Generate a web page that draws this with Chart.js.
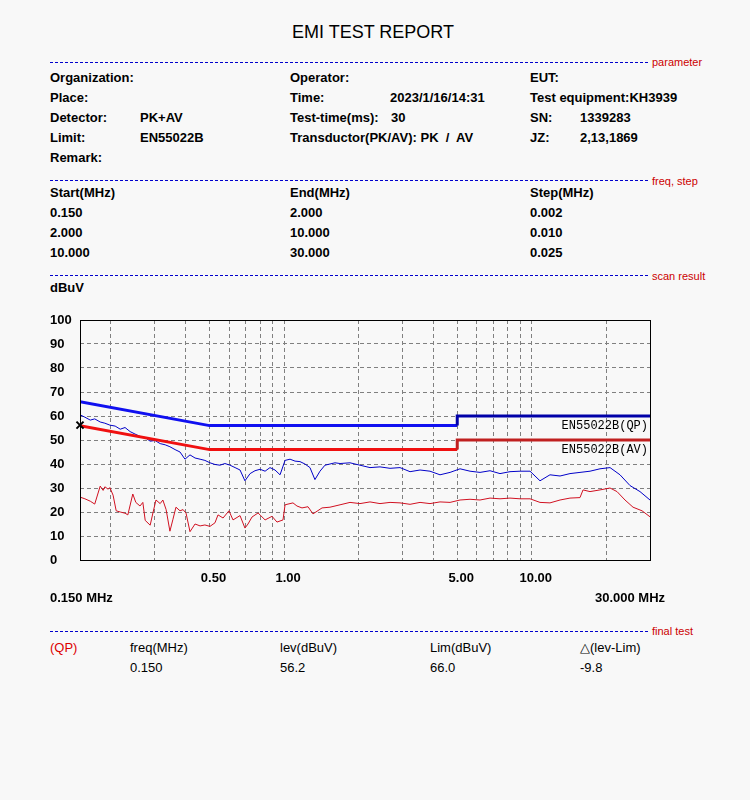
<!DOCTYPE html>
<html>
<head>
<meta charset="utf-8">
<title>EMI TEST REPORT</title>
<script src="https://cdn.jsdelivr.net/npm/chart.js@4/dist/chart.umd.min.js"></script>
<style>
  body { margin: 0; background: #f8f8f8; }
  #page { position: relative; width: 750px; height: 800px; font-family: "Liberation Sans", Arial, sans-serif; color: #000; }
  .t { position: absolute; font-size: 13px; line-height: 16px; font-weight: bold; white-space: pre; }
  .n { font-weight: normal; }
  .sec { position: absolute; font-size: 11px; line-height: 12px; color: #cc0000; }
  .dash { position: absolute; left: 50px; width: 598px; height: 0; border-top: 1px dashed #0000cc; }
  #title { position: absolute; top: 22px; left: 0; width: 746px; text-align: center; font-size: 18px; }
  #wrap { position: absolute; left: 0; top: 300px; width: 750px; height: 300px; }
</style>
</head>
<body>
<div id="page">
  <div id="title">EMI TEST REPORT</div>

  <div class="dash" style="top:62px"></div><div class="sec" style="left:652px;top:56px">parameter</div>
  <div class="t" style="left:50px;top:70px">Organization:</div>
  <div class="t" style="left:290px;top:70px">Operator:</div>
  <div class="t" style="left:530px;top:70px">EUT:</div>
  <div class="t" style="left:50px;top:90px">Place:</div>
  <div class="t" style="left:290px;top:90px">Time:</div>
  <div class="t" style="left:390px;top:90px">2023/1/16/14:31</div>
  <div class="t" style="left:530px;top:90px">Test equipment:KH3939</div>
  <div class="t" style="left:50px;top:110px">Detector:</div>
  <div class="t" style="left:140px;top:110px">PK+AV</div>
  <div class="t" style="left:290px;top:110px">Test-time(ms):</div>
  <div class="t" style="left:391px;top:110px">30</div>
  <div class="t" style="left:530px;top:110px">SN:</div>
  <div class="t" style="left:580px;top:110px">1339283</div>
  <div class="t" style="left:50px;top:130px">Limit:</div>
  <div class="t" style="left:140px;top:130px">EN55022B</div>
  <div class="t" style="left:290px;top:130px">Transductor(PK/AV): PK  /  AV</div>
  <div class="t" style="left:530px;top:130px">JZ:</div>
  <div class="t" style="left:580px;top:130px">2,13,1869</div>
  <div class="t" style="left:50px;top:150px">Remark:</div>

  <div class="dash" style="top:180px"></div><div class="sec" style="left:652px;top:175px">freq, step</div>
  <div class="t" style="left:50px;top:185px">Start(MHz)</div>
  <div class="t" style="left:290px;top:185px">End(MHz)</div>
  <div class="t" style="left:530px;top:185px">Step(MHz)</div>
  <div class="t" style="left:50px;top:205px">0.150</div>
  <div class="t" style="left:290px;top:205px">2.000</div>
  <div class="t" style="left:530px;top:205px">0.002</div>
  <div class="t" style="left:50px;top:225px">2.000</div>
  <div class="t" style="left:290px;top:225px">10.000</div>
  <div class="t" style="left:530px;top:225px">0.010</div>
  <div class="t" style="left:50px;top:245px">10.000</div>
  <div class="t" style="left:290px;top:245px">30.000</div>
  <div class="t" style="left:530px;top:245px">0.025</div>

  <div class="dash" style="top:275px"></div><div class="sec" style="left:652px;top:270px">scan result</div>
  <div class="t" style="left:50px;top:280px">dBuV</div>

  <div id="wrap"><canvas id="emiChart"></canvas></div>

  <div class="t" style="left:50px;top:590px">0.150 MHz</div>
  <div class="t" style="left:595px;top:590px">30.000 MHz</div>

  <div class="dash" style="top:631px"></div><div class="sec" style="left:652px;top:625px">final test</div>
  <div class="t n" style="left:50px;top:640px;color:#dd0000">(QP)</div>
  <div class="t n" style="left:130px;top:640px">freq(MHz)</div>
  <div class="t n" style="left:280px;top:640px">lev(dBuV)</div>
  <div class="t n" style="left:430px;top:640px">Lim(dBuV)</div>
  <div class="t n" style="left:580px;top:640px">△(lev-Lim)</div>
  <div class="t n" style="left:130px;top:660px">0.150</div>
  <div class="t n" style="left:280px;top:660px">56.2</div>
  <div class="t n" style="left:430px;top:660px">66.0</div>
  <div class="t n" style="left:580px;top:660px">-9.8</div>
</div>

<script>
// Dati (MHz / dBuV)
const xGrid = [0.2, 0.3, 0.4, 0.5, 0.6, 0.7, 0.8, 0.9, 1, 2, 3, 4, 5, 6, 7, 8, 9, 10, 20];
const xTickLabels = { 0.5: "0.50", 1: "1.00", 5: "5.00", 10: "10.00" };

// limiti EN55022B
const limitFreq = [0.15, 0.5, 5, 5, 30];
const qpLimit = [66, 56, 56, 60, 60];
const avLimit = [56, 46, 46, 50, 50];

// traccia PK (blu)
const pkFreq = [0.150, 0.157, 0.165, 0.172, 0.181, 0.189, 0.198, 0.208, 0.218, 0.228,
  0.239, 0.250, 0.262, 0.275, 0.288, 0.301, 0.316, 0.331, 0.346, 0.363,
  0.380, 0.398, 0.417, 0.437, 0.458, 0.479, 0.502, 0.526, 0.551, 0.577,
  0.605, 0.634, 0.664, 0.695, 0.729, 0.763, 0.800, 0.838, 0.877, 0.919,
  0.963, 1.009, 1.057, 1.107, 1.159, 1.214, 1.272, 1.332, 1.396, 1.462,
  1.532, 1.605, 1.682, 1.845, 2.025, 2.222, 2.439, 2.677, 2.937, 3.224,
  3.538, 3.882, 4.260, 4.676, 5.131, 5.631, 6.179, 6.781, 7.441, 8.166,
  8.962, 9.836, 10.79, 11.84, 13.00, 14.26, 15.65, 17.18, 18.85, 20.69,
  22.70, 24.92, 27.34, 30.0];
const pkLevel = [60.5, 59.5, 58.3, 58.8, 57.5, 57.0, 56.2, 55.8, 54.5, 55.2,
  53.5, 52.5, 51.5, 51.0, 49.5, 49.8, 48.5, 48.0, 47.2, 46.0,
  45.0, 42.0, 43.8, 42.5, 42.0, 41.5, 40.5, 39.8, 39.5, 40.2,
  39.5, 38.5, 37.5, 33.0, 36.0, 37.2, 37.8, 37.0, 38.5, 37.5,
  35.5, 41.5, 42.0, 41.2, 41.0, 40.0, 38.5, 33.5, 37.0, 39.5,
  40.0, 40.5, 40.2, 40.5, 39.5, 38.5, 38.8, 38.2, 38.5, 36.8,
  37.5, 37.0, 35.5, 36.5, 38.0, 37.0, 36.5, 37.2, 36.0, 36.8,
  37.0, 37.0, 33.0, 35.5, 35.0, 36.0, 36.5, 37.0, 38.0, 38.5,
  35.5, 31.0, 28.5, 25.0];

// traccia AV (rossa)
const avFreq = [0.150, 0.157, 0.165, 0.172, 0.181, 0.186, 0.189, 0.195, 0.198, 0.204,
  0.210, 0.218, 0.228, 0.234, 0.245, 0.252, 0.262, 0.269, 0.275, 0.288,
  0.296, 0.304, 0.316, 0.324, 0.334, 0.346, 0.356, 0.366, 0.380, 0.391,
  0.402, 0.417, 0.437, 0.458, 0.479, 0.502, 0.526, 0.541, 0.567, 0.599,
  0.622, 0.664, 0.695, 0.715, 0.742, 0.785, 0.838, 0.894, 0.936, 0.990,
  1.009, 1.086, 1.127, 1.181, 1.249, 1.308, 1.423, 1.532, 1.682, 1.845,
  2.025, 2.222, 2.439, 2.677, 2.937, 3.224, 3.538, 3.882, 4.260, 4.676,
  5.131, 5.631, 6.179, 6.781, 7.441, 8.166, 8.962, 9.836, 10.79, 11.84,
  13.00, 14.26, 15.65, 16.10, 17.18, 18.85, 20.69, 22.08, 23.78, 25.62,
  27.86, 30.0];
const avLevel = [26.2, 25.5, 24.5, 23.3, 30.8, 29.0, 30.5, 29.5, 30.2, 27.0,
  20.5, 20.0, 19.5, 18.8, 27.5, 24.0, 22.5, 24.0, 16.5, 14.5,
  20.0, 25.0, 23.5, 25.0, 21.0, 12.0, 17.0, 22.0, 20.5, 21.0,
  19.5, 11.8, 15.0, 14.2, 14.6, 14.0, 15.5, 18.8, 17.5, 20.5,
  16.7, 18.5, 13.3, 15.0, 17.9, 19.6, 16.7, 18.2, 15.8, 16.7,
  23.0, 23.8, 22.5, 21.7, 22.2, 19.2, 21.7, 22.0, 23.0, 24.0,
  23.5, 24.2, 23.5, 24.0, 23.8, 23.2, 24.0, 23.5, 24.2, 24.0,
  25.0, 25.3, 25.0, 25.8, 25.5, 25.8, 25.5, 25.5, 24.0, 23.8,
  25.0, 25.8, 26.0, 29.2, 28.5, 29.2, 30.0, 28.5, 25.0, 22.0,
  20.5, 18.0];

// punto final test QP
const markFreq = [0.150];
const markLevel = [56.2];

function zip(xs, ys) {
    return xs.map((x, i) => ({ x: x, y: ys[i] }));
}

// cornice e nomi dei limiti
const framePlugin = {
    id: "frame",
    afterDatasetsDraw(chart) {
        const a = chart.chartArea;
        const c = chart.ctx;
        const y = chart.scales.y;
        c.save();
        c.strokeStyle = "#000";
        c.lineWidth = 1;
        c.strokeRect(a.left + 0.5, a.top + 0.5, a.right - a.left, a.bottom - a.top);
        c.font = "12px 'Liberation Mono', monospace";
        c.fillStyle = "#000";
        c.textAlign = "right";
        c.textBaseline = "middle";
        c.fillText("EN55022B(QP)", a.right - 2, y.getPixelForValue(qpLimit[4]) + 10);
        c.fillText("EN55022B(AV)", a.right - 2, y.getPixelForValue(avLimit[4]) + 10);
        c.restore();
    }
};

const ctx = document.getElementById("emiChart");
const emiChart = new Chart(ctx, {
    type: "line",
    data: {
        datasets: [{
            label: "mark",
            data: zip(markFreq, markLevel),
            showLine: false,
            clip: 10,
            pointStyle: "crossRot",
            pointRadius: 5,
            borderColor: "#000",
            borderWidth: 2,
            order: 0
        }, {
            label: "QP limit",
            data: zip(limitFreq, qpLimit),
            borderColor: "#1010f0",
            segment: { borderColor: c => c.p0.parsed.x >= 5 ? "#0000a8" : "#1010f0" },
            borderWidth: 3,
            pointRadius: 0,
            order: 1
        }, {
            label: "AV limit",
            data: zip(limitFreq, avLimit),
            borderColor: "#f01010",
            segment: { borderColor: c => c.p0.parsed.x >= 5 ? "#c02020" : "#f01010" },
            borderWidth: 3,
            pointRadius: 0,
            order: 1
        }, {
            label: "PK",
            data: zip(pkFreq, pkLevel),
            borderColor: "#0000c8",
            borderWidth: 1,
            pointRadius: 0,
            order: 2
        }, {
            label: "AV",
            data: zip(avFreq, avLevel),
            borderColor: "#d01020",
            borderWidth: 1,
            pointRadius: 0,
            order: 2
        }]
    },
    options: {
        responsive: true,
        maintainAspectRatio: false,
        animation: false,
        layout: { padding: { left: 50, right: 100, top: 20, bottom: 12 } },
        plugins: { legend: { display: false }, tooltip: { enabled: false } },
        scales: {
            x: {
                type: "logarithmic",
                min: 0.15,
                max: 30,
                afterBuildTicks: s => { s.ticks = xGrid.map(v => ({ value: v })); },
                afterFit: s => { s.height = 28; },
                grid: { color: "#808080", drawTicks: false },
                border: { display: false, dash: [4, 3] },
                ticks: {
                    autoSkip: false,
                    maxRotation: 0,
                    padding: 11,
                    labelOffset: 4,
                    color: "#000",
                    font: { family: "'Liberation Sans', Arial", size: 13, weight: "bold" },
                    callback: v => xTickLabels[v] || ""
                }
            },
            y: {
                min: 0,
                max: 100,
                afterFit: s => { s.width = 30; },
                grid: { color: "#808080", drawTicks: false },
                border: { display: false, dash: [4, 3] },
                ticks: {
                    stepSize: 10,
                    crossAlign: "far",
                    padding: 4,
                    color: "#000",
                    font: { family: "'Liberation Sans', Arial", size: 13, weight: "bold" }
                }
            }
        }
    },
    plugins: [framePlugin]
});
</script>
</body>
</html>
